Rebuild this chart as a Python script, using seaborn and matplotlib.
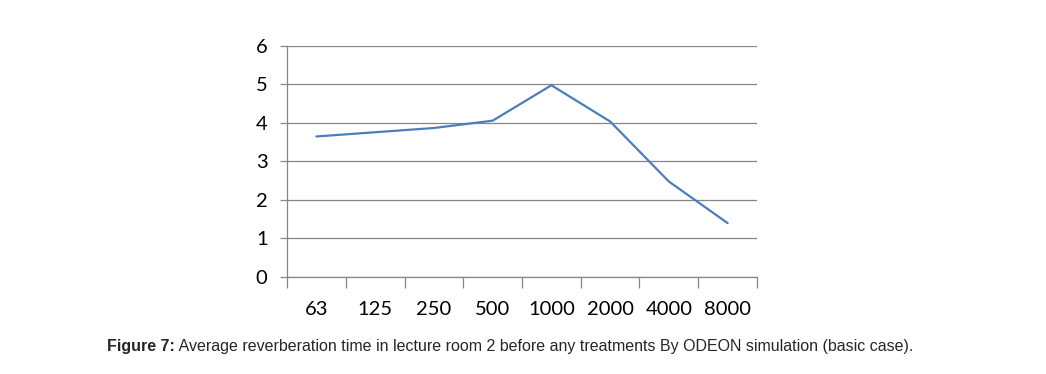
import numpy as np
import pandas as pd
import seaborn as sns
import matplotlib
matplotlib.use("Agg")
from matplotlib import pyplot as plt
from matplotlib.ticker import FixedLocator, NullFormatter

freqs = ["63", "125", "250", "500", "1000", "2000", "4000", "8000"]
rt = [3.65, 3.76, 3.87, 4.06, 4.98, 4.04, 2.48, 1.40]
yticks = [0, 1, 2, 3, 4, 5, 6]
caption_bold = "Figure 7:"
caption_rest = " Average reverberation time in lecture room 2 before any treatments By ODEON simulation (basic case)."

sns.set_style("white")
plt.rcParams['font.family'] = ['Lato', 'DejaVu Sans']

data = pd.DataFrame({"freq": freqs, "rt": rt})

fig = plt.figure(figsize=(10.46, 3.74), dpi=100)
ax = fig.add_axes([0.2744, 0.2594, 0.4493, 0.6176])

sns.lineplot(data=data, x="freq", y="rt", ax=ax, color="#4a7ebb", linewidth=1.6)

ax.set_xlim(-0.5, len(freqs) - 0.5)
ax.set_ylim(0, 6)
ax.set_yticks(yticks)
ax.yaxis.grid(True, color="#868686", linewidth=0.9)
ax.set_xlabel("")
ax.set_ylabel("")
for s in ["top", "right"]:
    ax.spines[s].set_visible(False)
for s in ["left", "bottom"]:
    ax.spines[s].set_color("#868686")
    ax.spines[s].set_linewidth(0.9)

ax.xaxis.set_minor_locator(FixedLocator(np.arange(-0.5, len(freqs), 1.0)))
ax.xaxis.set_minor_formatter(NullFormatter())
ax.tick_params(axis="x", which="minor", length=8, width=0.9, color="#868686", bottom=True)
ax.tick_params(axis="x", which="major", length=0, labelsize=14.5, pad=17, labelcolor="black")
ax.tick_params(axis="y", which="major", length=5, width=0.9, color="#868686",
               left=True, labelsize=14.5, pad=9, labelcolor="black")

t1 = fig.text(107 / 1046, 1 - 347 / 374, caption_bold, fontsize=11.5, fontweight="bold",
              family="Liberation Sans", va="center", ha="left")
fig.canvas.draw()
bb = t1.get_window_extent()
fig.text(bb.x1 / fig.bbox.width, 1 - 347 / 374, caption_rest, fontsize=11.5,
         family="Liberation Sans", va="center", ha="left")

fig.savefig("out.png", dpi=100)
